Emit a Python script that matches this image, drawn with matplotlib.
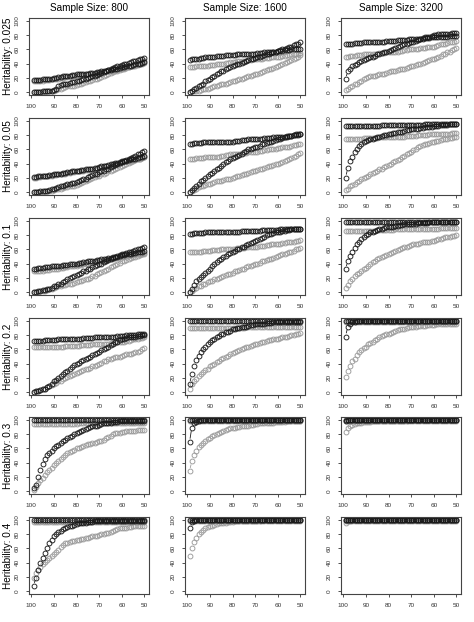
import numpy as np
import matplotlib.pyplot as plt

plt.rcParams["font.family"] = ["Liberation Sans", "DejaVu Sans"]

# x positions: top-% threshold, read right to left (99 ... 50)
threshold = [99, 98, 97, 96, 95, 94, 93, 92, 91, 90,
             89, 88, 87, 86, 85, 84, 83, 82, 81, 80,
             79, 78, 77, 76, 75, 74, 73, 72, 71, 70,
             69, 68, 67, 66, 65, 64, 63, 62, 61, 60,
             59, 58, 57, 56, 55, 54, 53, 52, 51, 50]
heritability = ["0.025", "0.05", "0.1", "0.2", "0.3", "0.4"]
sample_size = [800, 1600, 3200]

# ── heritability 0.025 ──
h0025_n800_blk_hi = [17,17,17,17,18,18,18,19,19,20, 20,21,21,22,22,23,23,24,24,25, 25,25,26,26,26,27,27,27,28,28, 29,29,30,31,31,32,33,33,34,35, 35,36,37,37,38,39,40,40,41,42]
h0025_n800_blk_lo = [0,0,0,0,1,1,1,2,2,3, 5,8,10,11,12,12,13,14,14,15, 16,17,18,19,20,21,22,23,24,26, 27,28,30,31,33,34,35,36,37,38, 39,40,41,42,43,44,45,46,47,48]
h0025_n800_gry_hi = [16,16,16,16,16,17,17,17,18,18, 19,19,20,20,21,21,22,22,23,23, 24,24,24,25,25,25,26,26,27,27, 28,28,29,29,30,31,31,32,33,33, 34,35,35,36,37,37,38,39,40,41]
h0025_n800_gry_lo = [0,0,0,0,0,0,1,1,1,2, 3,4,5,6,7,8,8,9,9,10, 11,12,13,14,15,16,17,18,19,20, 21,22,24,25,27,28,29,30,31,32, 33,34,35,36,37,38,40,41,42,43]

h0025_n1600_blk_hi = [45,46,46,47,47,48,48,49,49,50, 50,50,51,51,51,51,52,52,52,52, 52,53,53,53,53,53,54,54,54,54, 55,55,55,56,56,56,57,57,57,58, 58,58,59,59,59,60,60,60,61,61]
h0025_n1600_blk_lo = [0,2,4,6,8,10,12,15,17,19, 21,23,25,27,29,30,32,34,35,37, 38,39,40,41,42,43,45,46,47,48, 49,50,51,52,53,54,55,56,57,58, 59,60,61,62,63,64,66,67,68,70]
h0025_n1600_gry_hi = [35,35,35,36,36,36,37,37,37,38, 38,38,39,39,40,40,41,41,42,42, 42,43,43,44,44,44,45,45,46,46, 46,47,47,48,48,48,49,49,50,50, 50,51,51,52,52,53,53,54,54,55]
h0025_n1600_gry_lo = [0,1,1,2,2,3,4,4,5,6, 7,8,9,10,11,11,12,13,14,15, 16,17,18,19,20,21,22,23,24,25, 26,27,28,29,31,32,33,34,35,37, 38,39,41,42,44,45,47,48,50,52]

h0025_n3200_blk_hi = [68,68,68,68,69,69,69,69,70,70, 70,70,70,71,71,71,71,71,72,72, 72,72,72,73,73,73,73,73,74,74, 74,74,75,75,75,76,76,76,77,77, 77,77,78,78,78,78,79,79,79,79]
h0025_n3200_blk_lo = [18,30,33,36,38,40,42,44,45,47, 48,49,50,51,53,54,55,56,57,58, 59,61,62,63,65,66,67,68,69,70, 71,72,73,75,76,77,78,78,79,80, 80,81,81,81,82,82,82,83,83,83]
h0025_n3200_gry_hi = [50,50,51,51,51,52,52,52,53,53, 53,53,54,54,54,55,55,55,56,56, 56,57,57,57,58,58,59,59,60,60, 60,61,61,62,62,62,63,63,64,64, 65,66,67,67,68,69,70,70,71,72]
h0025_n3200_gry_lo = [3,5,7,9,11,12,14,16,18,20, 21,22,22,23,24,25,25,26,27,28, 29,30,30,31,32,33,33,34,35,36, 37,38,39,40,41,42,44,45,46,47, 48,50,51,53,54,56,57,59,60,62]

# ── heritability 0.05 ──
h005_n800_blk_hi = [21,21,22,22,23,23,23,24,24,25, 25,26,26,27,27,28,28,29,29,30, 30,31,31,32,32,33,33,34,34,35, 36,37,37,38,39,40,41,41,42,43, 44,44,45,46,46,47,48,49,50,51]
h005_n800_blk_lo = [0,0,0,1,1,1,2,3,4,5, 6,7,8,9,10,11,12,13,13,14, 15,17,18,19,21,22,24,25,26,28, 29,30,32,33,35,36,38,39,41,42, 44,45,47,48,50,51,53,54,56,58]
h005_n800_gry_hi = [20,20,21,21,22,22,22,23,23,24, 24,25,25,26,26,27,27,28,28,29, 29,30,30,31,31,32,32,33,33,34, 35,36,36,37,38,39,40,40,41,42, 43,43,44,45,45,46,47,47,48,49]
h005_n800_gry_lo = [0,0,0,0,0,1,1,2,2,3, 4,4,5,6,7,7,8,9,9,10, 11,13,14,15,17,18,20,21,22,23, 25,26,27,29,30,31,33,34,35,37, 38,39,41,42,43,45,46,47,49,50]

h005_n1600_blk_hi = [68,68,69,69,69,69,70,70,70,70, 70,70,70,70,71,71,71,71,71,71, 72,72,72,73,73,73,74,74,74,75, 75,75,75,76,76,76,76,77,77,77, 78,78,78,79,79,79,80,80,80,81]
h005_n1600_blk_lo = [0,3,6,9,12,15,17,20,22,25, 27,30,32,34,37,40,42,44,46,48, 49,51,52,54,56,58,60,61,62,63, 64,65,67,68,69,70,71,72,73,74, 75,76,77,78,79,79,80,81,81,82]
h005_n1600_gry_hi = [47,47,47,48,48,48,48,49,49,49, 49,50,50,50,51,51,52,52,53,53, 53,54,54,55,55,55,56,56,57,57, 57,58,58,59,59,60,60,61,61,62, 62,63,63,64,64,65,66,66,67,68]
h005_n1600_gry_lo = [0,2,3,5,7,8,9,10,11,12, 13,14,15,16,16,17,18,19,19,20, 21,22,23,24,25,26,27,28,29,30, 31,32,33,34,35,36,37,38,39,40, 41,42,44,45,46,48,49,51,53,55]

h005_n3200_blk_hi = [93,93,93,93,93,93,93,93,93,93, 93,93,93,93,93,93,94,94,94,94, 94,94,94,94,94,94,94,94,94,94, 94,94,94,94,94,95,95,95,95,95, 95,95,95,95,95,95,95,95,95,95]
h005_n3200_blk_lo = [20,34,43,50,56,61,65,68,70,72, 73,74,75,76,77,78,79,80,80,81, 82,83,83,84,85,85,86,87,87,88, 88,89,89,90,90,91,91,92,92,93, 93,93,94,94,94,94,95,95,95,95]
h005_n3200_gry_hi = [74,74,74,75,75,75,75,75,76,76, 76,76,76,76,76,77,77,77,77,77, 77,78,78,78,78,78,78,79,79,79, 79,79,80,80,80,80,80,81,81,81, 81,81,82,82,82,82,82,83,83,83]
h005_n3200_gry_lo = [3,5,8,10,12,14,16,18,20,21, 23,25,27,28,30,32,33,35,36,38, 40,42,44,45,47,49,51,53,55,57, 59,61,63,65,66,67,68,69,70,71, 72,72,73,74,74,75,76,76,77,78]

# ── heritability 0.1 ──
h01_n800_blk_hi = [33,33,34,34,34,35,35,35,36,36, 36,37,37,38,38,38,39,39,40,40, 41,41,42,42,43,43,44,44,45,45, 46,46,47,48,48,49,50,50,51,52, 52,53,54,54,55,55,56,57,57,58]
h01_n800_blk_lo = [0,0,1,2,3,3,4,5,6,8, 9,11,12,14,16,18,20,21,23,24, 26,27,29,30,32,33,35,36,38,39, 40,42,43,45,46,48,50,51,52,53, 54,55,56,57,58,59,60,61,62,64]
h01_n800_gry_hi = [29,29,30,30,30,31,31,31,32,32, 33,33,34,34,35,35,36,36,37,37, 38,38,39,39,40,41,41,42,42,43, 44,44,45,46,46,47,48,48,49,50, 50,51,51,52,52,53,53,54,54,55]
h01_n800_gry_lo = [0,0,0,1,1,2,3,4,5,6, 7,8,9,10,10,11,12,12,13,14, 15,16,17,18,19,20,22,23,25,27, 28,30,31,33,35,37,38,40,41,43, 44,45,47,48,49,50,51,52,53,54]

h01_n1600_blk_hi = [82,82,83,83,83,83,83,84,84,84, 84,84,84,84,84,85,85,85,85,85, 85,85,85,86,86,86,86,86,86,86, 86,86,87,87,87,87,87,87,87,87, 88,88,88,88,88,88,89,89,89,89]
h01_n1600_blk_lo = [0,5,10,15,18,21,24,27,30,33, 36,39,42,45,47,49,51,53,55,57, 58,60,61,63,64,66,67,69,70,72, 73,75,76,78,80,81,82,83,84,85, 85,86,86,87,87,88,88,88,89,89]
h01_n1600_gry_hi = [57,57,57,57,57,57,58,58,58,58, 59,59,59,59,60,60,60,60,61,61, 61,62,62,62,62,63,63,63,64,64, 64,65,65,65,66,66,67,67,68,68, 68,69,69,70,70,71,71,72,72,73]
h01_n1600_gry_lo = [0,2,4,6,8,9,11,12,14,15, 16,18,19,20,21,23,24,25,26,27, 29,30,31,32,33,35,36,37,38,39, 40,41,43,44,45,46,47,48,49,51, 52,53,54,55,56,57,58,60,61,62]

h01_n3200_blk_hi = [98,98,98,98,98,98,98,98,98,98, 98,98,98,98,98,99,99,99,99,99, 99,99,99,99,99,99,99,99,99,99, 99,99,99,99,99,99,99,99,99,99, 99,99,99,99,99,99,99,99,99,99]
h01_n3200_blk_lo = [32,44,51,57,62,67,71,74,77,80, 82,84,85,86,87,88,89,90,91,91, 92,92,93,93,94,94,95,95,96,96, 96,96,97,97,97,97,97,98,98,98, 98,98,98,98,98,98,98,98,98,98]
h01_n3200_gry_hi = [86,86,86,86,86,86,86,86,86,86, 86,86,86,86,87,87,87,87,87,87, 87,87,88,88,88,88,88,88,88,88, 88,88,89,89,89,89,89,89,89,89, 89,89,90,90,90,90,90,90,90,90]
h01_n3200_gry_lo = [6,10,15,18,22,25,27,30,32,34, 37,40,42,44,46,48,50,51,52,54, 55,56,58,59,60,62,63,64,65,66, 67,68,68,69,70,70,71,71,72,72, 73,74,75,76,77,78,78,79,79,80]

# ── heritability 0.2 ──
h02_n800_blk_hi = [72,72,72,72,72,73,73,73,73,73, 73,74,74,74,74,74,74,75,75,75, 75,75,76,76,76,76,76,77,77,77, 77,77,78,78,78,78,78,79,79,79, 79,80,80,80,80,80,81,81,81,81]
h02_n800_blk_lo = [0,1,2,3,4,5,7,9,12,15, 17,20,22,25,28,30,33,35,38,40, 41,43,45,46,48,50,52,54,55,57, 59,61,62,64,66,68,70,71,73,74, 75,76,77,77,78,78,79,79,80,80]
h02_n800_gry_hi = [64,64,64,64,64,64,64,64,64,64, 64,64,64,64,65,65,65,65,65,65, 65,66,66,66,66,66,67,67,67,67, 67,68,68,68,69,69,69,70,70,70, 71,72,72,73,74,74,75,76,76,77]
h02_n800_gry_lo = [0,1,2,3,4,5,7,8,10,12, 13,15,16,18,20,21,23,24,26,27, 28,29,31,32,33,34,36,37,38,40, 41,43,44,46,47,48,49,50,50,51, 52,53,54,54,55,56,57,58,60,62]

h02_n1600_blk_hi = [100,100,100,100,100,100,100,100,100,100, 100,100,100,100,100,100,100,100,100,100, 100,100,100,100,100,100,100,100,100,100, 100,100,100,100,100,100,100,100,100,100, 100,100,100,100,100,100,100,100,100,100]
h02_n1600_blk_lo = [11,25,36,45,51,56,60,64,67,70, 73,75,77,79,81,82,84,85,86,88, 89,90,90,91,92,92,93,94,94,95, 95,96,96,96,97,97,97,98,98,98, 98,98,99,99,99,99,99,99,99,99]
h02_n1600_gry_hi = [90,90,90,90,90,90,90,90,90,90, 90,90,90,90,90,90,90,90,90,90, 90,90,90,90,90,91,91,91,91,91, 91,91,91,91,91,91,91,91,91,91, 91,91,91,91,91,91,91,91,91,91]
h02_n1600_gry_lo = [5,11,15,19,22,25,28,31,33,36, 38,40,42,44,46,48,50,51,53,55, 56,58,59,60,62,63,64,65,66,67, 68,69,70,71,72,73,73,74,75,75, 76,77,77,78,79,80,80,81,82,83]

h02_n3200_blk_hi = [100,100,100,100,100,100,100,100,100,100, 100,100,100,100,100,100,100,100,100,100, 100,100,100,100,100,100,100,100,100,100, 100,100,100,100,100,100,100,100,100,100, 100,100,100,100,100,100,100,100,100,100]
h02_n3200_blk_lo = [78,92,96,98,99,100,100,100,100,100, 100,100,100,100,100,100,100,100,100,100, 100,100,100,100,100,100,100,100,100,100, 100,100,100,100,100,100,100,100,100,100, 100,100,100,100,100,100,100,100,100,100]
h02_n3200_gry_hi = [99,99,99,99,99,99,99,99,99,99, 99,99,99,99,99,99,99,99,99,99, 99,99,99,99,99,99,99,99,99,99, 99,99,99,99,99,99,99,99,99,99, 99,99,99,99,99,99,99,99,99,99]
h02_n3200_gry_lo = [21,30,37,43,47,52,56,59,62,64, 67,69,71,73,75,77,79,80,81,82, 83,85,86,87,88,88,89,90,91,91, 92,92,93,93,93,93,94,94,94,94, 95,95,95,95,95,96,96,96,96,96]

# ── heritability 0.3 ──
h03_n800_blk_hi = [100,100,100,100,100,100,100,100,100,100, 100,100,100,100,100,100,100,100,100,100, 100,100,100,100,100,100,100,100,100,100, 100,100,100,100,100,100,100,100,100,100, 100,100,100,100,100,100,100,100,100,100]
h03_n800_blk_lo = [4,9,20,30,38,45,51,54,57,60, 63,65,67,70,72,74,76,78,80,81, 83,84,86,87,88,90,91,92,92,93, 94,95,95,96,96,97,97,97,98,98, 98,98,99,99,99,99,99,99,99,99]
h03_n800_gry_hi = [94,94,94,94,94,94,94,94,94,94, 94,94,94,94,94,94,94,94,94,94, 95,95,95,95,95,95,95,95,95,95, 95,95,95,95,95,96,96,96,96,96, 96,96,96,96,96,96,96,96,96,96]
h03_n800_gry_lo = [2,6,11,15,19,23,27,30,33,36, 39,42,45,48,51,53,55,57,58,60, 61,62,64,65,66,66,67,68,69,70, 71,72,74,76,78,80,81,82,82,83, 83,84,84,85,85,85,86,86,86,86]

h03_n1600_blk_hi = [100,100,100,100,100,100,100,100,100,100, 100,100,100,100,100,100,100,100,100,100, 100,100,100,100,100,100,100,100,100,100, 100,100,100,100,100,100,100,100,100,100, 100,100,100,100,100,100,100,100,100,100]
h03_n1600_blk_lo = [69,89,95,97,99,100,100,100,100,100, 100,100,100,100,100,100,100,100,100,100, 100,100,100,100,100,100,100,100,100,100, 100,100,100,100,100,100,100,100,100,100, 100,100,100,100,100,100,100,100,100,100]
h03_n1600_gry_hi = [99,99,99,99,99,99,99,99,99,99, 99,99,99,99,99,99,99,99,99,99, 99,99,99,99,99,99,99,99,99,99, 99,99,99,99,99,99,99,99,99,99, 99,99,99,99,99,99,99,99,99,99]
h03_n1600_gry_lo = [28,42,51,57,62,65,68,71,73,75, 77,79,80,82,83,85,86,87,88,89, 89,90,90,91,91,92,92,93,93,94, 94,95,95,95,96,96,96,96,97,97, 97,97,97,98,98,98,98,98,98,98]

h03_n3200_blk_hi = [100,100,100,100,100,100,100,100,100,100, 100,100,100,100,100,100,100,100,100,100, 100,100,100,100,100,100,100,100,100,100, 100,100,100,100,100,100,100,100,100,100, 100,100,100,100,100,100,100,100,100,100]
h03_n3200_blk_lo = [99,100,100,100,100,100,100,100,100,100, 100,100,100,100,100,100,100,100,100,100, 100,100,100,100,100,100,100,100,100,100, 100,100,100,100,100,100,100,100,100,100, 100,100,100,100,100,100,100,100,100,100]
h03_n3200_gry_hi = [99,99,99,99,99,99,99,99,99,99, 99,99,99,99,99,99,99,99,99,99, 99,99,99,99,99,99,99,99,99,99, 99,99,99,99,99,99,99,99,99,99, 99,99,99,99,99,99,99,99,99,99]
h03_n3200_gry_lo = [83,88,91,93,94,95,96,96,97,97, 97,97,98,98,98,98,98,98,99,99, 99,99,99,99,99,99,99,99,100,100, 100,100,100,100,100,100,100,100,100,100, 100,100,100,100,100,100,100,100,100,100]

# ── heritability 0.4 ──
h04_n800_blk_hi = [100,100,100,100,100,100,100,100,100,100, 100,100,100,100,100,100,100,100,100,100, 100,100,100,100,100,100,100,100,100,100, 100,100,100,100,100,100,100,100,100,100, 100,100,100,100,100,100,100,100,100,100]
h04_n800_blk_lo = [7,19,30,39,47,54,61,67,72,77, 80,83,85,87,89,90,91,92,93,94, 95,95,96,96,97,97,97,98,98,98, 98,99,99,99,99,99,99,99,99,99, 99,99,99,99,99,99,99,99,99,99]
h04_n800_gry_hi = [97,97,97,97,97,97,97,97,97,97, 97,97,97,97,97,97,97,97,97,97, 97,97,97,97,97,97,97,97,97,97, 97,97,97,97,97,97,97,97,97,97, 97,97,97,97,97,97,97,97,97,97]
h04_n800_gry_lo = [18,25,30,34,38,41,44,47,50,52, 55,58,62,65,67,68,69,70,71,72, 72,73,73,74,75,76,77,78,78,79, 80,80,81,82,83,85,86,87,88,88, 89,89,90,90,91,91,91,92,92,92]

h04_n1600_blk_hi = [100,100,100,100,100,100,100,100,100,100, 100,100,100,100,100,100,100,100,100,100, 100,100,100,100,100,100,100,100,100,100, 100,100,100,100,100,100,100,100,100,100, 100,100,100,100,100,100,100,100,100,100]
h04_n1600_blk_lo = [88,97,99,100,100,100,100,100,100,100, 100,100,100,100,100,100,100,100,100,100, 100,100,100,100,100,100,100,100,100,100, 100,100,100,100,100,100,100,100,100,100, 100,100,100,100,100,100,100,100,100,100]
h04_n1600_gry_hi = [99,99,99,99,99,99,99,99,99,99, 99,99,99,99,99,99,99,99,99,99, 99,99,99,99,99,99,99,99,99,99, 99,99,99,99,99,99,99,99,99,99, 99,99,99,99,99,99,99,99,99,99]
h04_n1600_gry_lo = [50,61,69,75,80,83,86,88,90,91, 92,93,94,95,95,96,96,97,97,97, 98,98,98,98,99,99,99,99,99,99, 99,99,100,100,100,100,100,100,100,100, 100,100,100,100,100,100,100,100,100,100]

h04_n3200_blk_hi = [100,100,100,100,100,100,100,100,100,100, 100,100,100,100,100,100,100,100,100,100, 100,100,100,100,100,100,100,100,100,100, 100,100,100,100,100,100,100,100,100,100, 100,100,100,100,100,100,100,100,100,100]
h04_n3200_blk_lo = [100,100,100,100,100,100,100,100,100,100, 100,100,100,100,100,100,100,100,100,100, 100,100,100,100,100,100,100,100,100,100, 100,100,100,100,100,100,100,100,100,100, 100,100,100,100,100,100,100,100,100,100]
h04_n3200_gry_hi = [99,99,99,99,99,99,99,99,99,99, 99,99,99,99,99,99,99,99,99,99, 99,99,99,99,99,99,99,99,99,99, 99,99,99,99,99,99,99,99,99,99, 99,99,99,99,99,99,99,99,99,99]
h04_n3200_gry_lo = [95,98,99,100,100,100,100,100,100,100, 100,100,100,100,100,100,100,100,100,100, 100,100,100,100,100,100,100,100,100,100, 100,100,100,100,100,100,100,100,100,100, 100,100,100,100,100,100,100,100,100,100]

# rows = heritability, cols = sample size
panels = [
    [(h0025_n800_blk_hi, h0025_n800_blk_lo, h0025_n800_gry_hi, h0025_n800_gry_lo),
     (h0025_n1600_blk_hi, h0025_n1600_blk_lo, h0025_n1600_gry_hi, h0025_n1600_gry_lo),
     (h0025_n3200_blk_hi, h0025_n3200_blk_lo, h0025_n3200_gry_hi, h0025_n3200_gry_lo)],
    [(h005_n800_blk_hi, h005_n800_blk_lo, h005_n800_gry_hi, h005_n800_gry_lo),
     (h005_n1600_blk_hi, h005_n1600_blk_lo, h005_n1600_gry_hi, h005_n1600_gry_lo),
     (h005_n3200_blk_hi, h005_n3200_blk_lo, h005_n3200_gry_hi, h005_n3200_gry_lo)],
    [(h01_n800_blk_hi, h01_n800_blk_lo, h01_n800_gry_hi, h01_n800_gry_lo),
     (h01_n1600_blk_hi, h01_n1600_blk_lo, h01_n1600_gry_hi, h01_n1600_gry_lo),
     (h01_n3200_blk_hi, h01_n3200_blk_lo, h01_n3200_gry_hi, h01_n3200_gry_lo)],
    [(h02_n800_blk_hi, h02_n800_blk_lo, h02_n800_gry_hi, h02_n800_gry_lo),
     (h02_n1600_blk_hi, h02_n1600_blk_lo, h02_n1600_gry_hi, h02_n1600_gry_lo),
     (h02_n3200_blk_hi, h02_n3200_blk_lo, h02_n3200_gry_hi, h02_n3200_gry_lo)],
    [(h03_n800_blk_hi, h03_n800_blk_lo, h03_n800_gry_hi, h03_n800_gry_lo),
     (h03_n1600_blk_hi, h03_n1600_blk_lo, h03_n1600_gry_hi, h03_n1600_gry_lo),
     (h03_n3200_blk_hi, h03_n3200_blk_lo, h03_n3200_gry_hi, h03_n3200_gry_lo)],
    [(h04_n800_blk_hi, h04_n800_blk_lo, h04_n800_gry_hi, h04_n800_gry_lo),
     (h04_n1600_blk_hi, h04_n1600_blk_lo, h04_n1600_gry_hi, h04_n1600_gry_lo),
     (h04_n3200_blk_hi, h04_n3200_blk_lo, h04_n3200_gry_hi, h04_n3200_gry_lo)],
]

W, H = 474, 622
lefts = [29, 185, 341]
tops = [18, 118, 218, 318, 417, 517]
pw, ph = 120, 77
black, gray = "#1a1a1a", "#9a9a9a"
GAP = 3.8  # px left open around each point, like R's type="b"

fig = plt.figure(figsize=(W / 100, H / 100), dpi=100)


def draw_series(ax, ys, col):
    ax.plot(threshold, ys, ls="none", marker="o", ms=3.5,
            mfc="none", mec=col, mew=0.65)
    # short connecting segments that stop before the circles
    pts = ax.transData.transform(np.column_stack([threshold, ys]))
    inv = ax.transData.inverted()
    for p0, p1 in zip(pts[:-1], pts[1:]):
        d = p1 - p0
        dist = np.hypot(*d)
        if dist > 2 * GAP + 1:
            u = d / dist
            a, b = inv.transform([p0 + u * GAP, p1 - u * GAP])
            ax.plot([a[0], b[0]], [a[1], b[1]], color=col, lw=0.6)


for r, row in enumerate(panels):
    for c, (blk_hi, blk_lo, gry_hi, gry_lo) in enumerate(row):
        ax = fig.add_axes([lefts[c] / W, 1 - (tops[r] + ph) / H, pw / W, ph / H])
        ax.set_xlim(101, 48)
        ax.set_ylim(-4, 104)
        for ys, col in [(gry_hi, gray), (gry_lo, gray), (blk_hi, black), (blk_lo, black)]:
            draw_series(ax, ys, col)
        ax.set_xticks([100, 90, 80, 70, 60, 50])
        ax.set_yticks([0, 20, 40, 60, 80, 100])
        ax.tick_params(labelsize=4.6, length=2.5, width=0.6, pad=4, colors="#333333")
        for lab in ax.get_yticklabels():
            lab.set_rotation(90)
            lab.set_va("center")
        for sp in ax.spines.values():
            sp.set_linewidth(0.8)
            sp.set_color("#444444")

for c, n in enumerate(sample_size):
    fig.text((lefts[c] + pw / 2) / W, 1 - 8 / H, f"Sample Size: {n}",
             ha="center", va="center", fontsize=7.2)
for r, h in enumerate(heritability):
    fig.text(8 / W, 1 - (tops[r] + ph / 2) / H, f"Heritability: {h}",
             ha="center", va="center", rotation=90, fontsize=7.2)

fig.savefig("out.png", dpi=100)
